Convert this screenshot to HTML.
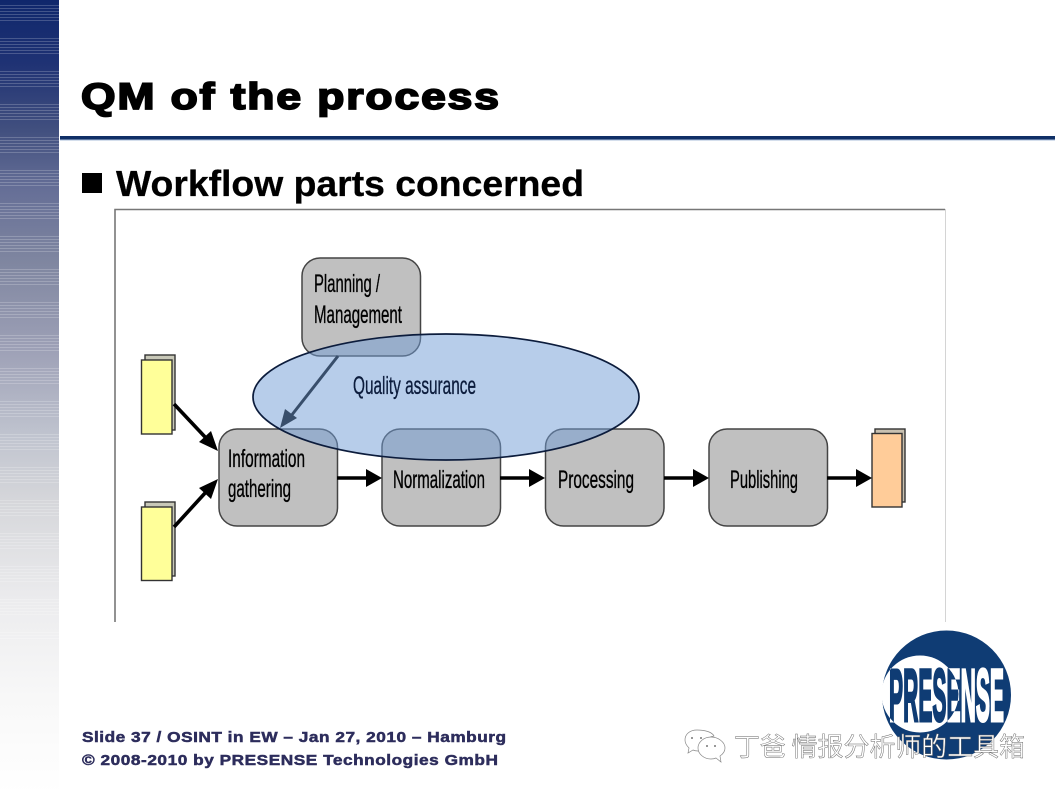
<!DOCTYPE html>
<html lang="en"><head><meta charset="utf-8"><title>QM of the process</title>
<style>html,body{margin:0;padding:0;background:#fff;width:1059px;height:793px;overflow:hidden}svg{display:block}
text{font-family:"Liberation Sans","Noto Sans CJK SC",sans-serif}</style></head><body>
<svg width="1059" height="793" viewBox="0 0 1059 793" xmlns="http://www.w3.org/2000/svg">
<defs>
<linearGradient id="side" x1="0" y1="0" x2="0" y2="1">
<stop offset="0" stop-color="#0f276c"/><stop offset=".08" stop-color="#1f3274"/><stop offset=".165" stop-color="#42507f"/><stop offset=".24" stop-color="#666f97"/><stop offset=".33" stop-color="#7f86a0"/><stop offset=".44" stop-color="#9da0b6"/><stop offset=".55" stop-color="#c0c4cf"/><stop offset=".63" stop-color="#d5d6da"/><stop offset=".76" stop-color="#ececee"/><stop offset=".88" stop-color="#f8f8f8"/><stop offset="1" stop-color="#ffffff"/>
</linearGradient>
<pattern id="stripes" width="59" height="33" patternUnits="userSpaceOnUse" y="5">
<rect y="0" width="59" height="1" fill="#fff" opacity=".2"/><rect y="3" width="59" height="1" fill="#fff" opacity=".2"/><rect y="6" width="59" height="1" fill="#fff" opacity=".2"/><rect y="9" width="59" height="1" fill="#fff" opacity=".2"/><rect y="12" width="59" height="1" fill="#fff" opacity=".2"/><rect y="15" width="59" height="1" fill="#fff" opacity=".2"/>
</pattern>
<clipPath id="inC"><circle cx="920" cy="694" r="38.5"/></clipPath>
<clipPath id="outC"><path clip-rule="evenodd" d="M870 640H1020V750H870Z M881.500 694a38.500 38.500 0 1 0 77 0a38.500 38.500 0 1 0 -77 0Z"/></clipPath>
</defs>
<rect width="1059" height="793" fill="#fff"/>
<rect width="59" height="793" fill="url(#side)"/>
<rect width="59" height="640" fill="url(#stripes)"/>

<rect x="60" y="136" width="995" height="3.500" fill="#0f2f66"/>
<rect x="60" y="139.500" width="995" height="1" fill="#a9bcd8"/>

<text transform="translate(81,109) scale(1.2,1)" font-size="37" font-weight="700" fill="#000" stroke="#000" stroke-width="1.800" letter-spacing="1.6">QM of the process</text>
<rect x="82" y="173" width="20" height="20" fill="#000"/>
<text x="116" y="196" font-size="36" font-weight="700" fill="#000" stroke="#000" stroke-width=".3" textLength="468" lengthAdjust="spacingAndGlyphs">Workflow parts concerned</text>

<path d="M115 622V209.500H945" fill="none" stroke="#777" stroke-width="1.600"/>
<path d="M945.500 209V622" fill="none" stroke="#d4d4d4" stroke-width="1"/>

<!-- documents -->
<g stroke="#333" stroke-width="1.400">
<rect x="145" y="355" width="30" height="75" fill="#c8c8b8"/><rect x="141.500" y="360" width="30.500" height="74" fill="#ffff99"/>
<rect x="145" y="502" width="30" height="74" fill="#c8c8b8"/><rect x="141.500" y="507" width="30.500" height="73.500" fill="#ffff99"/>
<rect x="875" y="429" width="30" height="73" fill="#c8c0b0"/><rect x="872" y="433.500" width="30" height="73.500" fill="#ffcc99"/>
</g>

<!-- boxes -->
<g fill="#c0c0c0" stroke="#444" stroke-width="1.500">
<rect x="302" y="258" width="118.500" height="98" rx="18"/>
<rect x="219" y="429" width="118.500" height="97" rx="18"/>
<rect x="382" y="429" width="118.500" height="97" rx="18"/>
<rect x="545.500" y="429" width="118.500" height="97" rx="18"/>
<rect x="709" y="429" width="118.500" height="97" rx="18"/>
</g>

<!-- arrows -->
<g stroke="#000" stroke-width="3.600" fill="none">
<path d="M174 404L206 438"/><path d="M174 527L206 492"/>
<path d="M337 478H370"/><path d="M500 478H533"/><path d="M664 478H697"/><path d="M827 478H860"/>
</g>
<g fill="#000">
<path d="M218 451L199 442L211 431Z"/><path d="M218 479L211 499L199 488Z"/>
<path d="M382 478L366 469V487Z"/><path d="M545 478L529 469V487Z"/><path d="M709 478L693 469V487Z"/><path d="M872 478L856 469V487Z"/>
</g>
<path d="M338 356L291 416" stroke="#000" stroke-width="3" fill="none"/>
<path d="M280 428L285 409L297 418Z" fill="#000"/>

<!-- labels -->
<g fill="#000" stroke="#000" stroke-width=".35" font-size="25">
<text x="314" y="292" textLength="66" lengthAdjust="spacingAndGlyphs">Planning /</text>
<text x="314" y="323" textLength="88" lengthAdjust="spacingAndGlyphs">Management</text>
<text x="228" y="467" textLength="77" lengthAdjust="spacingAndGlyphs">Information</text>
<text x="228" y="497" textLength="63" lengthAdjust="spacingAndGlyphs">gathering</text>
<text x="393" y="488" textLength="92" lengthAdjust="spacingAndGlyphs">Normalization</text>
<text x="558" y="488" textLength="76" lengthAdjust="spacingAndGlyphs">Processing</text>
<text x="730" y="488" textLength="68" lengthAdjust="spacingAndGlyphs">Publishing</text>
</g>

<!-- quality ellipse -->
<ellipse cx="446" cy="397" rx="193" ry="63" fill="#6f9bd5" fill-opacity=".5"/>
<ellipse cx="446" cy="397" rx="193" ry="63" fill="none" stroke="#0c1c3c" stroke-width="1.700"/>
<text x="353" y="394" font-size="25" fill="#0c1c3c" stroke="#0c1c3c" stroke-width=".35" textLength="123" lengthAdjust="spacingAndGlyphs">Quality assurance</text>

<!-- logo -->
<circle cx="946.500" cy="695" r="64.500" fill="#0f3c74"/>
<circle cx="920" cy="694" r="38.500" fill="#fff"/>
<g font-size="74" font-weight="700">
<text x="889" y="721" fill="#0f3c74" stroke="#0f3c74" stroke-width="3" clip-path="url(#inC)" textLength="115" lengthAdjust="spacingAndGlyphs">PRESENSE</text>
<text x="889" y="721" fill="#fff" stroke="#fff" stroke-width="3" clip-path="url(#outC)" textLength="115" lengthAdjust="spacingAndGlyphs">PRESENSE</text>
</g>

<!-- footer -->
<g font-size="15" font-weight="700" fill="#2d2d5c" stroke="#2d2d5c" stroke-width=".5">
<text transform="translate(82,742) scale(1.15,1)" textLength="368.700" lengthAdjust="spacing">Slide 37 / OSINT in EW – Jan 27, 2010 – Hamburg</text>
<text transform="translate(82,765) scale(1.15,1)" textLength="361.700" lengthAdjust="spacing">© 2008-2010 by PRESENSE Technologies GmbH</text>
</g>

<!-- watermark -->
<g fill="#fff" stroke="#888" stroke-width=".7">
<path d="M697 730c-7 0-12 4-12 10c0 3 2 6 4 8l-1 5l5-3c2 1 3 1 5 1l5 0c-1-8 4-14 11-15c-2-4-9-6-17-6Z"/>
<path d="M711 737c-7 0-13 5-13 11s6 11 13 11c2 0 3 0 5-1l5 4l-1-6c3-2 5-5 5-8c0-6-7-11-14-11Z"/>
</g>
<g fill="#777"><circle cx="707" cy="746" r="1"/><circle cx="715" cy="746" r="1"/><circle cx="692" cy="738" r="1"/><circle cx="701" cy="738" r="1"/></g>
<text x="734" y="756" font-size="26" fill="#fff" stroke="#666" stroke-width=".45" style="font-family:'WenQuanYi Zen Hei','Noto Sans CJK SC',sans-serif" textLength="291" lengthAdjust="spacingAndGlyphs">丁爸 情报分析师的工具箱</text>
</svg>
</body></html>
